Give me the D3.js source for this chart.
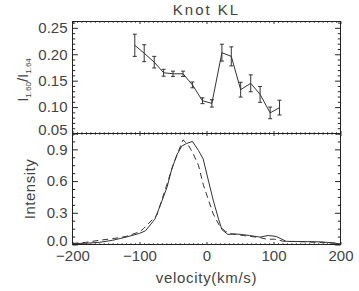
<!DOCTYPE html>
<html><head><meta charset="utf-8">
<script src="https://cdn.jsdelivr.net/npm/d3@7"></script>
<style>
html,body{margin:0;padding:0;background:#fff;}
svg{display:block;}
text{font-family:"Liberation Sans",Arial,sans-serif;fill:#444;}
</style></head>
<body>
<script>
// ---- data ----
const ratioVel = [-107,-93,-78,-64,-50,-35,-21,-6,8,23,37,51,66,80,95,109];
const ratioVal = [0.217,0.202,0.185,0.165,0.163,0.163,0.142,0.112,0.107,0.203,0.196,0.133,0.145,0.124,0.089,0.099];
const ratioErr = [0.021,0.016,0.011,0.0065,0.005,0.005,0.0055,0.0055,0.007,0.016,0.018,0.014,0.016,0.015,0.011,0.014];

const solidVel = [-200,-180,-160,-140,-120,-100,-91,-77,-69,-59,-52,-44,-37,-30,-21,-12,-5,3,10,18,23,32,42,52,64,80,92,104,119,140,170,188,200];
const solidVal = [0.008,0.012,0.02,0.04,0.07,0.105,0.13,0.24,0.37,0.54,0.71,0.85,0.93,0.955,0.975,0.89,0.81,0.60,0.42,0.24,0.14,0.095,0.10,0.095,0.085,0.07,0.085,0.076,0.03,0.028,0.025,0.016,0.005];

const dashVel = [-200,-180,-160,-140,-120,-100,-94,-74,-60,-50,-42,-35,-27,-20,-12,-5,3,10,20,28,38,55,80,90,102,115,150,200];
const dashVal = [0.01,0.02,0.04,0.055,0.076,0.12,0.15,0.28,0.55,0.75,0.88,0.99,0.94,0.86,0.75,0.57,0.42,0.29,0.17,0.125,0.10,0.085,0.065,0.05,0.05,0.03,0.025,0.01];

const xTicks = [-200,-100,0,100,200];
const yTopTicks = [0.05,0.10,0.15,0.20,0.25];
const yBotTicks = [0.0,0.3,0.6,0.9];
const title = "Knot KL";
const xLabel = "velocity(km/s)";
const yBotLabel = "Intensity";

// ---- layout ----
const W=359,H=291;
const L=72.5,R=340.5,T=21.5,M=133.5,B=244.5;

const svg=d3.select("body").append("svg").attr("width",W).attr("height",H);

const x=d3.scaleLinear().domain([-200,200]).range([L,R]);
const yT=d3.scaleLinear().domain([0.05,0.262]).range([M,T]);
const yB=d3.scaleLinear().domain([0,1.05]).range([B,M]);

const xMinor=d3.range(-200,200.01,100/15);
const ink="#222";
function styleAxis(g){g.select(".domain").remove();g.selectAll("line").attr("stroke",ink).attr("stroke-width",1);
 g.selectAll("text").attr("font-size",15).attr("fill","#444").attr("font-family","Liberation Sans, Arial, sans-serif");}

function panel(y,ticks,fmt,yMinorStep,xLabels){
  const y0=y.range()[1], y1=y.range()[0];
  const yMin=d3.range(y.domain()[0],y.domain()[1]+1e-9,yMinorStep).filter(v=>ticks.every(t=>Math.abs(t-v)>1e-6));
  svg.append("g").attr("transform",`translate(${L},0)`).call(d3.axisLeft(y).tickValues(yMin).tickSizeInner(-2.7).tickSizeOuter(0).tickFormat("")).call(styleAxis);
  const gl=svg.append("g").attr("transform",`translate(${L},0)`).call(d3.axisLeft(y).tickValues(ticks).tickSizeInner(-5.4).tickSizeOuter(0).tickPadding(5).tickFormat(fmt)).call(styleAxis);
  gl.selectAll(".tick text").filter(d=>Math.abs(d-y.domain()[0])<1e-9).attr("y",-4);
  svg.append("g").attr("transform",`translate(${R},0)`).call(d3.axisRight(y).tickValues(yMin).tickSizeInner(-2.7).tickSizeOuter(0).tickFormat("")).call(styleAxis);
  svg.append("g").attr("transform",`translate(${R},0)`).call(d3.axisRight(y).tickValues(ticks).tickSizeInner(-5.4).tickSizeOuter(0).tickFormat("")).call(styleAxis);
  const xm=xMinor.filter(v=>xTicks.every(t=>Math.abs(t-v)>1e-6));
  svg.append("g").attr("transform",`translate(0,${y1})`).call(d3.axisBottom(x).tickValues(xm).tickSizeInner(-1.2).tickSizeOuter(0).tickFormat("")).call(styleAxis);
  svg.append("g").attr("transform",`translate(0,${y1})`).call(d3.axisBottom(x).tickValues(xTicks).tickSizeInner(-2.4).tickSizeOuter(0).tickPadding(6).tickFormat(xLabels?(d=>d3.format("d")(d).replace("-","\u2212")):"")).call(styleAxis);
  svg.append("g").attr("transform",`translate(0,${y0})`).call(d3.axisTop(x).tickValues(xm).tickSizeInner(-1.2).tickSizeOuter(0).tickFormat("")).call(styleAxis);
  svg.append("g").attr("transform",`translate(0,${y0})`).call(d3.axisTop(x).tickValues(xTicks).tickSizeInner(-2.4).tickSizeOuter(0).tickFormat("")).call(styleAxis);
  svg.append("rect").attr("x",L).attr("y",y0).attr("width",R-L).attr("height",y1-y0).attr("fill","none").attr("stroke",ink).attr("stroke-width",1);
}
panel(yT,yTopTicks,d3.format(".2f"),0.01,false);
panel(yB,yBotTicks,d3.format(".1f"),0.075,true);

// ---- top panel data ----
const pts=ratioVel.map((v,i)=>({v,r:ratioVal[i],e:ratioErr[i]}));
svg.append("path").datum(pts).attr("fill","none").attr("stroke","#333").attr("stroke-width",1)
  .attr("d",d3.line().x(d=>x(d.v)).y(d=>yT(d.r)));
const eb=svg.append("g").attr("stroke","#333").attr("stroke-width",1);
pts.forEach(d=>{
  const xx=x(d.v), ya=yT(d.r+d.e), yb=yT(d.r-d.e);
  eb.append("line").attr("x1",xx).attr("x2",xx).attr("y1",ya).attr("y2",yb);
  eb.append("line").attr("x1",xx-2).attr("x2",xx+2).attr("y1",ya).attr("y2",ya);
  eb.append("line").attr("x1",xx-2).attr("x2",xx+2).attr("y1",yb).attr("y2",yb);
});

// ---- bottom panel data ----
const solid=solidVel.map((v,i)=>[v,solidVal[i]]);
const dash=dashVel.map((v,i)=>[v,dashVal[i]]);
const ln=d3.line().x(d=>x(d[0])).y(d=>yB(d[1]));
svg.append("path").datum(solid).attr("fill","none").attr("stroke","#333").attr("stroke-width",1).attr("d",ln);
svg.append("path").datum(dash).attr("fill","none").attr("stroke","#333").attr("stroke-width",1).attr("stroke-dasharray","6,4").attr("d",ln);

// ---- labels ----
svg.append("text").attr("x",(L+R)/2).attr("y",15).attr("text-anchor","middle").attr("font-size",15).attr("letter-spacing","2px").text(title);
svg.append("text").attr("x",(L+R)/2).attr("y",283).attr("text-anchor","middle").attr("font-size",15).attr("letter-spacing","0.7px").text(xLabel);
svg.append("text").attr("transform",`translate(35,189) rotate(-90)`).attr("text-anchor","middle").attr("font-size",15).attr("letter-spacing","0.5px").text(yBotLabel);
const yl=svg.append("text").attr("transform",`translate(28,80) rotate(-90)`).attr("text-anchor","middle").attr("font-size",15);
yl.append("tspan").text("I");
yl.append("tspan").attr("font-size",8).attr("dy",3).text("1.60");
yl.append("tspan").attr("dy",-3).text("/");
yl.append("tspan").text("I");
yl.append("tspan").attr("font-size",8).attr("dy",3).text("1.64");
</script>
</body></html>
